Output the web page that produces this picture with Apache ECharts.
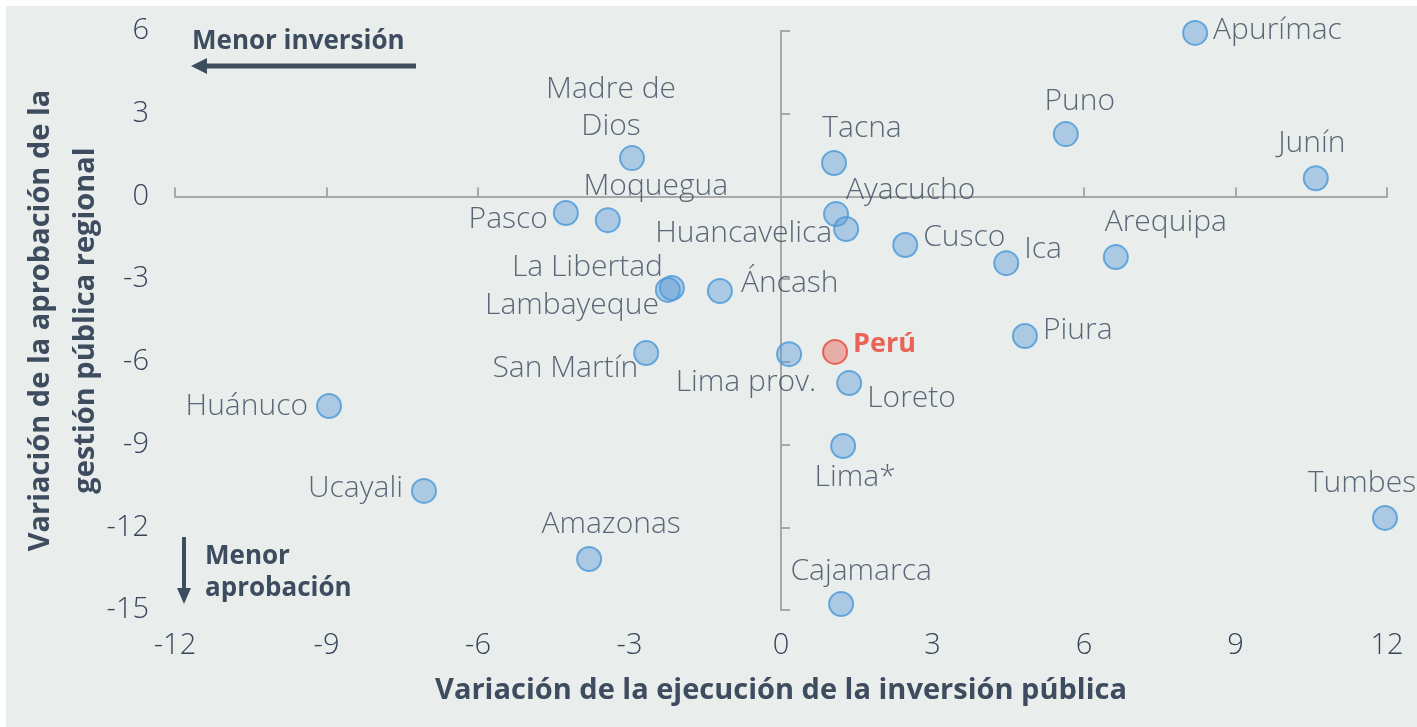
<!DOCTYPE html>
<html>
<head>
<meta charset="utf-8">
<script src="https://cdn.jsdelivr.net/npm/echarts@6/dist/echarts.min.js"></script>
<style>
  html, body { margin: 0; padding: 0; background: #fff; }
  #chart { position: absolute; left: 6px; top: 6px; width: 1411px; height: 721px; }
</style>
</head>
<body>
<div id="chart"></div>
<script>
// regiones y variaciones (puntos porcentuales)
const regions = ['Apurímac', 'Puno', 'Junín', 'Tacna', 'Madre de\nDios', 'Moquegua', 'Pasco', 'Ayacucho',
  'Huancavelica', 'Cusco', 'Ica', 'Arequipa', 'La Libertad', 'Lambayeque', 'Áncash', 'Piura', 'Perú',
  'Lima prov.', 'San Martín', 'Loreto', 'Lima*', 'Huánuco', 'Ucayali', 'Amazonas', 'Cajamarca', 'Tumbes'];
const inversion = [8.2, 5.64, 10.59, 1.05, -2.95, -3.43, -4.26, 1.09,
  1.29, 2.46, 4.46, 6.63, -2.16, -2.24, -1.21, 4.83, 1.07,
  0.16, -2.67, 1.35, 1.23, -8.95, -7.07, -3.8, 1.19, 11.96];
const aprobacion = [5.93, 2.26, 0.66, 1.21, 1.39, -0.86, -0.6, -0.64,
  -1.18, -1.76, -2.42, -2.2, -3.32, -3.39, -3.43, -5.06, -5.64,
  -5.72, -5.68, -6.77, -9.05, -7.6, -10.68, -13.15, -14.78, -11.66];
const xTicks = [-12, 12, 3];   // min, max, interval
const yTicks = [-15, 6, 3];

// where each label sits around its point
const labelPos = {
  'Apurímac': ['right', [0, -2]], 'Puno': ['top', [14, 4]], 'Junín': ['top', [-4, 2]],
  'Tacna': ['top', [28, 2]], 'Madre de\nDios': ['top', [-21, 5]], 'Moquegua': ['top', [48, 3]],
  'Pasco': ['left', [0, 6]], 'Ayacucho': ['right', [-8, -24]], 'Huancavelica': ['left', [4, 4]],
  'Cusco': ['right', [0, -8]], 'Ica': ['right', [0, -14]], 'Arequipa': ['top', [50, 2]],
  'La Libertad': ['left', [9, -21]], 'Lambayeque': ['left', [9, 16]], 'Áncash': ['right', [3, -8]],
  'Piura': ['right', [0, -5]], 'Perú': ['right', [0, -8]], 'Lima prov.': ['left', [45, 28]],
  'San Martín': ['left', [10, 15]], 'Loreto': ['right', [0, 15]], 'Lima*': ['bottom', [12, -5]],
  'Huánuco': ['left', [-3, 0]], 'Ucayali': ['left', [-3, -2]], 'Amazonas': ['top', [22, 2]],
  'Cajamarca': ['top', [20, 4]], 'Tumbes': ['top', [-23, 2]]
};

const textColor = '#36455a';
const lightFont = '"Open Sans", "DejaVu Sans", sans-serif';

const chart = echarts.init(document.getElementById('chart'));

const points = regions.map((name, i) => {
  const isPeru = name === 'Perú';
  const lp = labelPos[name];
  return {
    name: name,
    value: [inversion[i], aprobacion[i]],
    itemStyle: isPeru
      ? { color: 'rgba(232,90,80,0.55)', borderColor: '#e5473b', borderWidth: 2 }
      : { color: 'rgba(91,155,213,0.55)', borderColor: '#4a98d8', borderWidth: 2 },
    label: {
      show: true,
      position: lp[0],
      offset: lp[1],
      distance: 5,
      formatter: '{b}',
      fontFamily: lightFont,
      fontWeight: isPeru ? 'bold' : 300,
      fontSize: isPeru ? 27 : 30,
      lineHeight: 37,
      color: isPeru ? '#e8412f' : textColor
    }
  };
});

const arrowColor = '#3e4c5f';

chart.setOption({
  backgroundColor: '#e9edec',
  animation: false,
  grid: { left: 169, right: 30, top: 25, bottom: 117, containLabel: false, outerBoundsMode: 'none' },
  xAxis: [
    {
      type: 'value', min: xTicks[0], max: xTicks[1], interval: xTicks[2],
      position: 'bottom',
      axisLine: { show: false, onZero: false },
      axisTick: { show: false },
      splitLine: { show: false },
      axisLabel: { margin: 21, fontFamily: lightFont, fontWeight: 300, fontSize: 29, color: textColor },
      name: 'Variación de la ejecución de la inversión pública',
      nameLocation: 'middle',
      nameGap: 66,
      nameTextStyle: { fontFamily: lightFont, fontWeight: 'bold', fontSize: 29, color: arrowColor }
    },
    {
      type: 'value', min: xTicks[0], max: xTicks[1], interval: xTicks[2],
      position: 'bottom',
      axisLine: { show: true, onZero: true, onZeroAxisIndex: 0, lineStyle: { color: '#a8a8a8', width: 2 } },
      axisTick: { show: true, length: 9, inside: true, lineStyle: { color: '#a8a8a8', width: 2 } },
      splitLine: { show: false },
      axisLabel: { show: false }
    }
  ],
  yAxis: [
    {
      type: 'value', min: yTicks[0], max: yTicks[1], interval: yTicks[2],
      position: 'left',
      axisLine: { show: false, onZero: false },
      axisTick: { show: false },
      splitLine: { show: false },
      axisLabel: { margin: 26, fontFamily: lightFont, fontWeight: 300, fontSize: 29, color: textColor },
      name: 'Variación de la aprobación de la\ngestión pública regional',
      nameLocation: 'middle',
      nameRotate: 90,
      nameGap: 67,
      nameMoveOverlap: false,
      nameTextStyle: { fontFamily: lightFont, fontWeight: 'bold', fontSize: 29, lineHeight: 45, color: arrowColor }
    },
    {
      type: 'value', min: yTicks[0], max: yTicks[1], interval: yTicks[2],
      position: 'left',
      axisLine: { show: true, onZero: true, onZeroAxisIndex: 0, lineStyle: { color: '#a8a8a8', width: 2 } },
      axisTick: { show: true, length: 9, inside: true, lineStyle: { color: '#a8a8a8', width: 2 } },
      splitLine: { show: false },
      axisLabel: { show: false }
    }
  ],
  graphic: [
    {
      type: 'text', left: 186, top: 23,
      style: { text: 'Menor inversión', fontFamily: lightFont, fontWeight: 'bold', fontSize: 26, fill: arrowColor }
    },
    {
      type: 'line', shape: { x1: 200, y1: 60, x2: 410, y2: 60 },
      style: { stroke: arrowColor, lineWidth: 5 }
    },
    {
      type: 'polygon', shape: { points: [[185, 60], [201, 52], [201, 68]] },
      style: { fill: arrowColor }
    },
    {
      type: 'text', left: 199, top: 535,
      style: {
        text: 'Menor\naprobación', fontFamily: lightFont, fontWeight: 'bold', fontSize: 26,
        lineHeight: 32, fill: arrowColor
      }
    },
    {
      type: 'line', shape: { x1: 178, y1: 531, x2: 178, y2: 584 },
      style: { stroke: arrowColor, lineWidth: 4 }
    },
    {
      type: 'polygon', shape: { points: [[178, 598], [171, 582], [185, 582]] },
      style: { fill: arrowColor }
    }
  ],
  series: [
    {
      type: 'scatter',
      xAxisIndex: 0,
      yAxisIndex: 0,
      symbolSize: 24,
      data: points,
      z: 5
    }
  ]
});
</script>
</body>
</html>
